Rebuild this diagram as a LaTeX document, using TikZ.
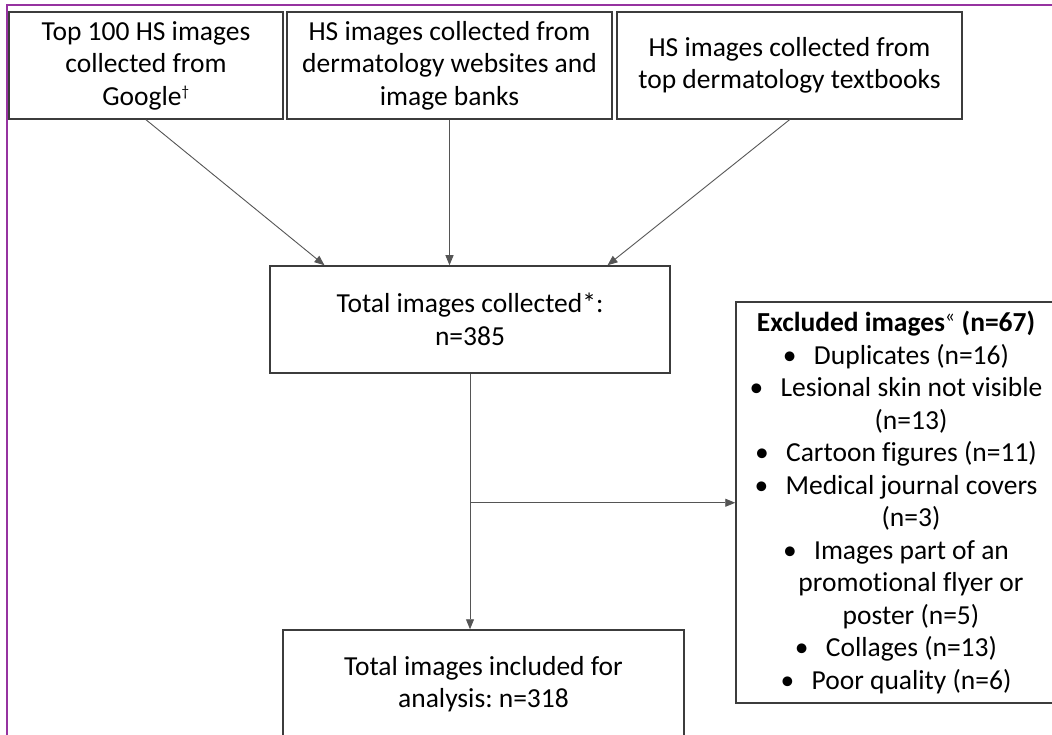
\documentclass[tikz,border=0pt]{standalone}
\usepackage{fontspec}
\setmainfont[Ligatures={NoCommon}]{Carlito}
\usetikzlibrary{arrows.meta,calc}
\definecolor{framec}{RGB}{150,50,160}
\definecolor{boxline}{RGB}{60,60,60}
\definecolor{arrline}{RGB}{85,85,85}
\newcommand\exbul{\makebox[31pt][l]{\textbullet}}
\frenchspacing
\begin{document}
\begin{tikzpicture}[x=1pt,y=-1pt,
  box/.style={draw=boxline,line width=1.5pt,align=center,inner sep=0pt,
    font=\fontsize{27.5}{32.5}\selectfont},
  arr/.style={draw=arrline,line width=0.9pt,-{Triangle[length=10pt,width=8pt]}}]
\useasboundingbox (0,0) rectangle (1052,735);
\clip (0,0) rectangle (1052,735);
% frame
\draw[framec,line width=2pt] (7,740) -- (7,5) -- (1060,5);
% top boxes
\node[box,minimum width=274pt,minimum height=107pt] (b1) at (146,65.5)
  {Top 100 HS images\\collected from\\Google\textsuperscript{\fontsize{15}{15}\selectfont †}};
\node[box,minimum width=325pt,minimum height=107pt] (b2) at (449.5,65.5)
  {HS images collected from\\dermatology websites and\\image banks};
\node[box,minimum width=345pt,minimum height=107pt] (b3) at (789.5,65.5)
  {HS images collected from\\top dermatology textbooks};
% collected
\node[box,minimum width=400pt,minimum height=107pt] (coll) at (470,319.5)
  {Total images collected*:\\n=385};
% excluded
\node[box,minimum width=320pt,minimum height=401pt] (excl) at (896,502.5)
  {\textbf{Excluded images}\textsuperscript{«} \textbf{(n=67)}\\
   \exbul Duplicates (n=16)\\
   \exbul Lesional skin not visible\\
   \hspace*{30pt}(n=13)\\
   \exbul Cartoon figures (n=11)\\
   \exbul Medical journal covers\\
   \hspace*{30pt}(n=3)\\
   \exbul Images part of an\\
   \hspace*{30pt}promotional flyer or\\
   \hspace*{30pt}poster (n=5)\\
   \exbul Collages (n=13)\\
   \exbul Poor quality (n=6)};
% included
\node[box,minimum width=401pt,minimum height=108pt] (incl) at (483.5,684)
  {Total images included for\\analysis: n=318};
% arrows
\draw[arr] (b1.south) -- ($(coll.north west)!0.1375!(coll.north east)$);
\draw[arr] (b2.south) -- (b2.south |- coll.north);
\draw[arr] (b3.south) -- ($(coll.north west)!0.8425!(coll.north east)$);
\coordinate (br) at ($(coll.south)+(0,129)$);
\draw[arr] (coll.south) -- (coll.south |- incl.north);
\draw[arr] (br) -- (br -| excl.west);
\end{tikzpicture}
\end{document}
